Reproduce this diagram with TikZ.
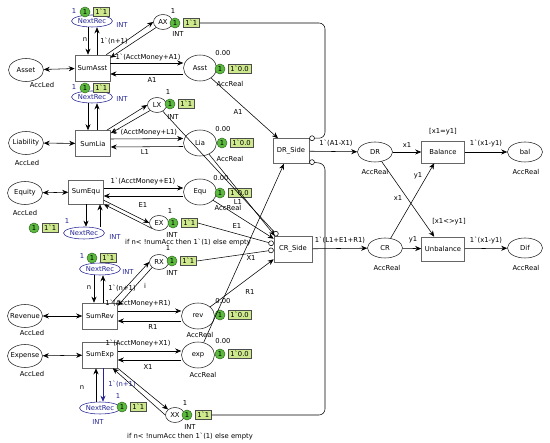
\documentclass[tikz,border=0pt]{standalone}
\usepackage{fontspec}
\setmainfont{DejaVu Sans}
\usepackage{tikz}
\usetikzlibrary{positioning, arrows.meta, shapes.geometric}
\definecolor{tokgreen}{RGB}{92,186,62}
\definecolor{markfill}{RGB}{206,232,142}
\definecolor{recblue}{RGB}{38,38,150}

\newcommand{\bq}{\textasciigrave}
\newcommand{\nm}[1]{\makebox[0pt]{#1}}
% token circle plus marking box
\newcommand{\tokmark}[3]{%
  \node[tok] (#1t) at (#2) {1};
  \node[markbox, right=2.5pt of #1t] (#1m) {#3};}

\begin{document}
\begin{tikzpicture}[x=1pt, y=-1pt, >={Stealth[length=6pt, width=5pt]},
  font=\fontsize{6.8}{8}\selectfont, line width=0.55pt,
  place/.style={draw=black!85, ellipse, fill=white, inner sep=0pt, minimum width=35, minimum height=23},
  tinyplace/.style={place, minimum width=19, minimum height=15},
  sumplace/.style={place, minimum width=33, minimum height=26},
  recplace/.style={place, draw=recblue, text=recblue, minimum width=41, minimum height=12},
  trans/.style={draw=black!60, fill=white, minimum width=35, minimum height=26, inner sep=1pt},
  tok/.style={circle, fill=tokgreen, draw=tokgreen!60!black, inner sep=0pt, minimum size=10},
  markbox/.style={fill=markfill, draw=black!70, inner xsep=2.2pt, inner ysep=2pt},
  lbl/.style={inner sep=0.5pt},
  blbl/.style={lbl, text=recblue},
  inhib/.style={-{Circle[open, length=5.5pt]}}]
  \useasboundingbox (0,0) rectangle (550,443);

  % ledger places
  \node[place] (asset) at (26,70) {\nm{Asset}};
  \node[lbl] (assetT) at (42,85) {AccLed};
  \node[place] (liab) at (26,143) {\nm{Liability}};
  \node[lbl] (liabT) at (27,163) {AccLed};
  \node[place] (equity) at (25,193) {\nm{Equity}};
  \node[lbl] (equityT) at (25,213) {AccLed};
  \node[place] (revenue) at (25,316) {\nm{Revenue}};
  \node[lbl] (revenueT) at (32,333) {AccLed};
  \node[place] (expense) at (25,356) {\nm{Expense}};
  \node[lbl] (expenseT) at (32,374) {AccLed};

  % sum transitions
  \node[trans] (sumasst) at (92.5,68) {SumAsst};
  \node[trans] (sumlia) at (93,143.5) {SumLia};
  \node[trans, minimum height=24] (sumequ) at (86,192) {SumEqu};
  \node[trans] (sumrev) at (100,316) {SumRev};
  \node[trans] (sumexp) at (100,355) {SumExp};

  % record counters
  \node[recplace] (nr1) at (92,21) {NextRec};
  \node[recplace] (nr2) at (92,97) {NextRec};
  \node[recplace] (nr3) at (84,233) {NextRec};
  \node[recplace] (nr4) at (100,269) {NextRec};
  \node[recplace] (nr5) at (100,408) {NextRec};
  \node[blbl] (nr1c) at (74,11) {1};   \tokmark{nr1}{85,12}{1\bq1}
  \node[blbl] (nr1T) at (122,25) {INT};
  \node[blbl] (nr2c) at (74,87) {1};   \tokmark{nr2}{85,88}{1\bq1}
  \node[blbl] (nr2T) at (122,99) {INT};
  \node[blbl] (nr3c) at (67,221) {1};  \tokmark{nr3}{34,228}{1\bq1}
  \node[blbl] (nr3T) at (115,237) {INT};
  \node[blbl] (nr4c) at (82,256) {1};  \tokmark{nr4}{92,258}{1\bq1}
  \node[blbl] (nr4T) at (128,272) {INT};
  \node[blbl] (nr5c) at (118,396) {1}; \tokmark{nr5}{122,407}{1\bq1}
  \node[blbl] (nr5T) at (98,422) {INT};

  % index places
  \node[tinyplace] (ax) at (163,22) {AX};
  \node[tinyplace] (lx) at (157,105) {LX};
  \node[tinyplace] (ex) at (159,223) {EX};
  \node[tinyplace] (rx) at (159,262) {RX};
  \node[tinyplace] (xx) at (175,415) {XX};
  \node[lbl] (axc) at (173,11) {1};  \tokmark{ax}{175,23}{1\bq1}
  \node[lbl] (axT) at (178,34) {INT};
  \node[lbl] (lxc) at (168,92) {1};  \tokmark{lx}{170,104}{1\bq1}
  \node[lbl] (lxT) at (173,117) {INT};
  \node[lbl] (exc) at (170,211) {1}; \tokmark{ex}{173,223}{1\bq1}
  \node[lbl] (exT) at (172,235) {INT};
  \node[lbl] (rxc) at (168,248) {1}; \tokmark{rx}{172,261}{1\bq1}
  \node[lbl] (rxT) at (172,273) {INT};
  \node[lbl] (xxc) at (185,403) {1}; \tokmark{xx}{187,415}{1\bq1}
  \node[lbl] (xxT) at (190,427) {INT};

  % running totals
  \node[sumplace] (asst) at (200,68) {Asst};
  \node[sumplace] (lia) at (200,143) {Lia};
  \node[sumplace] (equ) at (200,192) {Equ};
  \node[sumplace] (rev) at (198,316) {rev};
  \node[sumplace] (exp) at (198,355) {exp};
  \node[lbl] (asstc) at (223,53) {0.00}; \tokmark{asst}{220,69}{1\bq0.0}
  \node[lbl] (asstT) at (230,84) {AccReal};
  \node[lbl] (liac) at (223,129) {0.00}; \tokmark{lia}{222,143}{1\bq0.0}
  \node[lbl] (liaT) at (230,159) {AccReal};
  \node[lbl] (equc) at (221,178) {0.00}; \tokmark{equ}{220,193}{1\bq0.0}
  \node[lbl] (equT) at (228,208) {AccReal};
  \node[lbl] (revc) at (223,301) {0.00}; \tokmark{rev}{220,315}{1\bq0.0}
  \node[lbl] (revT) at (200,335) {AccReal};
  \node[lbl] (expc) at (223,341) {0.00}; \tokmark{exp}{220,354}{1\bq0.0}
  \node[lbl] (expT) at (203,375) {AccReal};

  % sides and check
  \node[trans, minimum width=36, minimum height=25] (drside) at (291,151) {DR\_Side};
  \node[trans, minimum width=38, minimum height=26] (crside) at (293,249) {CR\_Side};
  \node[place, minimum height=20] (dr) at (375,152) {DR};
  \node[lbl] (drT) at (375,172) {AccReal};
  \node[place, minimum height=20] (cr) at (385,248) {CR};
  \node[lbl] (crT) at (387,268) {AccReal};
  \node[trans, minimum width=43, minimum height=22] (balance) at (443,152) {Balance};
  \node[lbl] (balG) at (443,132) {[x1=y1]};
  \node[trans, minimum width=43, minimum height=24] (unbalance) at (443,249) {Unbalance};
  \node[lbl] (unbalG) at (449,222) {[x1<>y1]};
  \node[place, minimum height=20] (bal) at (525,152) {bal};
  \node[lbl] (balT) at (526,172) {AccReal};
  \node[place, minimum height=20] (dif) at (525,248) {Dif};
  \node[lbl] (difT) at (526,268) {AccReal};

  % ledger <-> sums
  \draw[<->] (asset) -- (sumasst);
  \draw[<->] (liab) -- (sumlia);
  \draw[<->] (equity) -- (sumequ);
  \draw[<->] (revenue) -- (sumrev);
  \draw[<->] (expense) -- (sumexp);

  % counters
  \draw[->] ([xshift=-4]nr1.south) -- ([xshift=-4.5]sumasst.north);
  \draw[->] ([xshift=4.5]sumasst.north) -- ([xshift=5]nr1.south);
  \node[lbl] (nr1n) at (85,40) {n};
  \node[lbl] (nr1p) at (114,41) {1\bq(n+1)};
  \draw[->] ([xshift=-4]nr2.south) -- ([xshift=-5]sumlia.north);
  \draw[->] ([xshift=4]sumlia.north) -- ([xshift=5]nr2.south);
  \draw[->] (sumequ.south) -- ([xshift=2]nr3.north);
  \draw[->] ([xshift=16]nr3.north) -- ([xshift=14]sumequ.south);
  \draw[->] ([xshift=-6]nr4.south) -- ([xshift=-6]sumrev.north);
  \draw[->] ([xshift=3]sumrev.north) -- ([xshift=3]nr4.south);
  \node[lbl] (nr4n) at (89,288) {n};
  \node[lbl] (nr4p) at (122,288) {1\bq(n+1)};
  \draw[->] ([xshift=-4]nr5.north) -- ([xshift=-4]sumexp.south);
  \draw[->, recblue] ([xshift=3]sumexp.south) -- ([xshift=3]nr5.north);
  \node[lbl] (nr5n) at (82,388) {n};
  \node[blbl] (nr5p) at (122,384) {1\bq(n+1)};

  % index loops
  \draw[->] ([xshift=-4]sumasst.north east) -- (ax.west);
  \draw[->] (ax.south west) -- ([yshift=-3]sumasst.north east);
  \draw[->] ([xshift=-4]sumlia.north east) -- (lx.west);
  \draw[->] (lx.south west) -- ([yshift=-3]sumlia.north east);
  \draw[->] ([yshift=4]sumequ.south east) -- (ex.west);
  \draw[->] (ex.south west) -- (sumequ.south east);
  \draw[->] ([xshift=-6]sumrev.north east) -- (rx.west);
  \draw[->] (rx.south west) -- ([yshift=-3]sumrev.north east);
  \node[lbl] (rxi) at (145,286) {i};
  \draw[->] (sumexp.south east) -- (xx.north west);
  \draw[->] (xx.west) -- ([xshift=-5]sumexp.south east);

  % sums <-> totals
  \draw[->] ([yshift=5]sumasst.east) -- ([yshift=5]asst.west);
  \draw[->] ([yshift=-6]asst.west) -- ([yshift=-6]sumasst.east);
  \node[lbl] (aup) at (148,57) {1\bq(AcctMoney+A1)};
  \node[lbl] (adn) at (152,80) {A1};
  \draw[->] ([yshift=4.5]sumlia.east) -- ([yshift=4.5]lia.west);
  \draw[->] ([yshift=-3.5]lia.west) -- ([yshift=-3.5]sumlia.east);
  \node[lbl] (lup) at (145,132) {1\bq(AcctMoney+L1)};
  \node[lbl] (ldn) at (145,152) {L1};
  \draw[->] ([yshift=4]sumequ.east) -- ([yshift=4]equ.west);
  \draw[->] ([yshift=-4]equ.west) -- ([yshift=-4]sumequ.east);
  \node[lbl] (eup) at (143,181) {1\bq(AcctMoney+E1)};
  \node[lbl] (edn) at (143,205) {E1};
  \draw[->] ([yshift=5]sumrev.east) -- ([yshift=5]rev.west);
  \draw[->] ([yshift=-5]rev.west) -- ([yshift=-5]sumrev.east);
  \node[lbl] (rup) at (138,303) {1\bq(AcctMoney+R1)};
  \node[lbl] (rdn) at (153,327) {R1};
  \draw[->] ([yshift=4]sumexp.east) -- ([yshift=4]exp.west);
  \draw[->] ([yshift=-5]exp.west) -- ([yshift=-5]sumexp.east);
  \node[lbl] (xup) at (138,343) {1\bq(AcctMoney+X1)};
  \node[lbl] (xdn) at (148,367) {X1};

  % totals -> sides
  \coordinate (railtop) at (325,23);
  \coordinate (railbot) at (325,415);
  \draw[inhib, rounded corners=6] (axm.east) -- (railtop) -- (railtop |- drside.north east) -- (drside.north east);
  \draw[inhib, rounded corners=6] (xxm.east) -- (railbot) -- (railbot |- drside.south east) -- ([yshift=2]drside.south east);
  \draw[->] (asst) -- ([xshift=-13]drside.north);
  \node[lbl] (asideL) at (238,112) {A1};
  \draw[->] (exp) -- ([xshift=-7]drside.south);
  \node[lbl] (xsideL) at (251,258) {X1};
  \draw[inhib] (lx) -- ([xshift=4]crside.north west);
  \draw[->] (lia) -- ([xshift=1]crside.north west);
  \node[lbl] (lsideL) at (238,202) {L1};
  \draw[->] (equ) -- ([yshift=-3]crside.north west);
  \node[lbl] (esideL) at (237,226) {E1};
  \draw[inhib] (exm.east) -- ([yshift=5]crside.west);
  \draw[inhib] (rxm.east) -- ([yshift=-1]crside.west);
  \draw[->] (rev) -- ([yshift=3]crside.south west);
  \node[lbl] (rsideL) at (250,292) {R1};
  \node[lbl] (exIf) at (188,242) {if n< !numAcc then 1\bq(1) else empty};
  \node[lbl] (xxIf) at (190,436) {if n< !numAcc then 1\bq(1) else empty};

  % balance check
  \draw[->] (drside) -- (dr);
  \node[lbl] (drL) at (336,143) {1\bq(A1-X1)};
  \draw[->] (crside) -- (cr);
  \node[lbl] (crL) at (340,240) {1\bq(L1+E1+R1)};
  \draw[->] (dr) -- (balance);
  \node[lbl] (drx) at (407,145) {x1};
  \draw[->] (cr) -- (unbalance);
  \node[lbl] (cry) at (413,240) {y1};
  \draw[->] (dr) -- ([xshift=13]unbalance.north west);
  \node[lbl] (drx2) at (398,198) {x1};
  \draw[->] (cr) -- ([xshift=13]balance.south west);
  \node[lbl] (cry2) at (418,176) {y1};
  \draw[->] (balance) -- (bal);
  \node[lbl] (balL) at (486,143) {1\bq(x1-y1)};
  \draw[->] (unbalance) -- (dif);
  \node[lbl] (difL) at (486,240) {1\bq(x1-y1)};
\end{tikzpicture}
\end{document}
